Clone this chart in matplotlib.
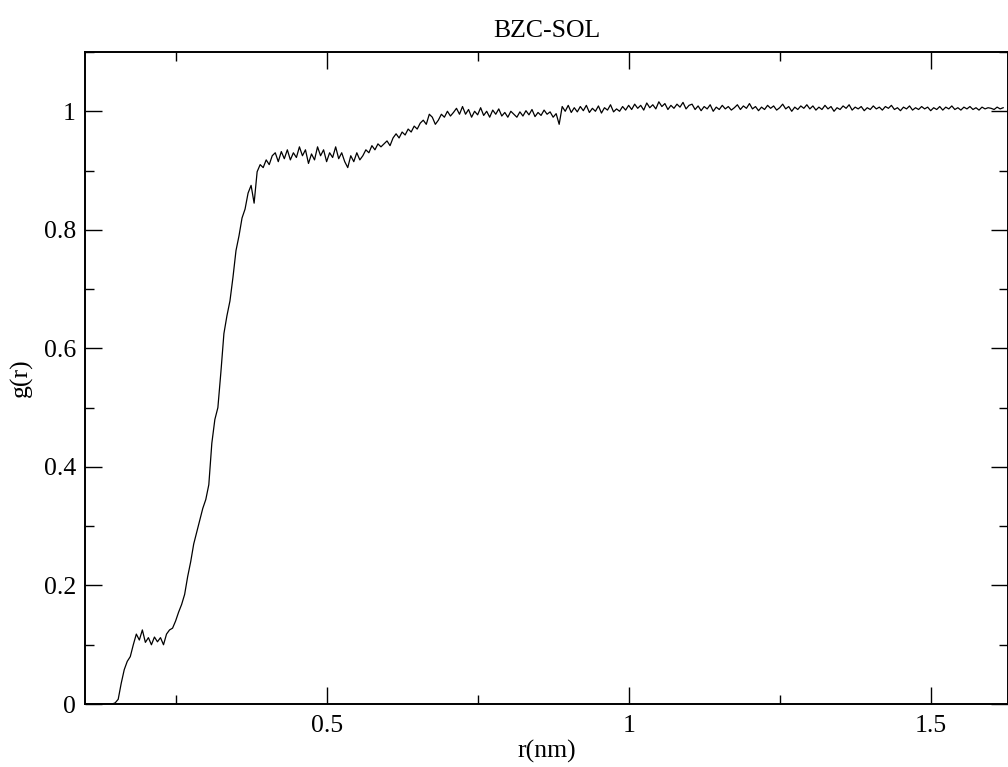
import numpy as np
import matplotlib
matplotlib.use("Agg")
import matplotlib.pyplot as plt
from matplotlib.ticker import MultipleLocator

# radial distribution function, r grid: 0.100 .. 1.620 step 0.005
r_start = 0.1
r_step = 0.005
g = [
    # 0.100 - 0.145
    0, 0, 0, 0, 0, 0, 0, 0, 0, 0,
    # 0.150 - 0.730
    0.002, 0.008, 0.035, 0.058, 0.072, 0.080, 0.100, 0.118, 0.108, 0.125,
    0.104, 0.112, 0.100, 0.113, 0.105, 0.112, 0.100, 0.118, 0.125, 0.128,
    0.140, 0.155, 0.168, 0.185, 0.215, 0.240, 0.270, 0.290, 0.310, 0.330,
    0.345, 0.370, 0.440, 0.480, 0.500, 0.560, 0.625, 0.655, 0.680, 0.720,
    0.765, 0.790, 0.820, 0.835, 0.862, 0.875, 0.845, 0.898, 0.910, 0.905,
    0.918, 0.910, 0.925, 0.930, 0.915, 0.932, 0.920, 0.935, 0.918, 0.930,
    0.922, 0.940, 0.925, 0.935, 0.912, 0.928, 0.918, 0.940, 0.925, 0.935,
    0.915, 0.930, 0.922, 0.940, 0.920, 0.930, 0.915, 0.905, 0.925, 0.915,
    0.930, 0.918, 0.925, 0.935, 0.930, 0.942, 0.935, 0.945, 0.940, 0.945,
    0.950, 0.942, 0.955, 0.962, 0.955, 0.965, 0.960, 0.970, 0.965, 0.975,
    0.970, 0.980, 0.985, 0.978, 0.995, 0.990, 0.978, 0.985, 0.995, 0.990,
    1.000, 0.992, 0.998, 1.005, 0.995, 1.008, 0.995,
    # 0.735 - 0.880
    1.003, 0.990, 1.000, 0.994, 1.006, 0.993, 1.000, 0.990, 1.002, 0.995,
    1.004, 0.992, 0.998, 0.990, 1.000, 0.995, 0.990, 0.999, 0.992, 1.001,
    0.994, 1.003, 0.991, 0.998, 0.993, 1.002, 0.995, 0.999, 0.990, 0.996,
    # 0.885 - 0.905
    0.978, 1.008, 1.000, 1.010, 0.998,
    # 0.910 - 1.000
    1.006, 0.999, 1.008, 1.001, 1.010, 0.998, 1.005, 1.000, 1.009, 0.997,
    1.006, 1.002, 1.011, 0.999, 1.004, 1.000, 1.008, 1.002, 1.010,
    # 1.005 - 1.100
    1.003, 1.012, 1.005, 1.010, 1.002, 1.014, 1.006, 1.011, 1.004, 1.016,
    1.008, 1.013, 1.003, 1.010, 1.005, 1.012, 1.007, 1.015, 1.004, 1.010,
    # 1.105 - 1.300
    1.012, 1.003, 1.009, 1.001, 1.008, 1.004, 1.011, 1.000, 1.007, 1.003,
    1.010, 1.004, 1.008, 1.002, 1.006, 1.011, 1.003, 1.009, 1.005, 1.013,
    1.004, 1.008, 1.001, 1.007, 1.003, 1.010, 1.005, 1.009, 1.002, 1.006,
    1.012, 1.004, 1.008, 1.000, 1.007, 1.003, 1.009, 1.005, 1.011, 1.004,
    # 1.305 - 1.600
    1.009, 1.002, 1.007, 1.003, 1.010, 1.004, 1.008, 1.000, 1.006, 1.003,
    1.009, 1.005, 1.011, 1.002, 1.007, 1.004, 1.008, 1.001, 1.006, 1.003,
    1.009, 1.004, 1.007, 1.002, 1.008, 1.005, 1.010, 1.003, 1.006, 1.001,
    1.007, 1.004, 1.009, 1.002, 1.006, 1.003, 1.008, 1.004, 1.007, 1.001,
    1.006, 1.003, 1.008, 1.002, 1.007, 1.004, 1.009, 1.003, 1.006, 1.002,
    1.007, 1.004, 1.008, 1.003, 1.006, 1.002, 1.007, 1.004, 1.006, 1.005,
    # 1.605 - 1.620
    1.003, 1.007, 1.004, 1.006,
]
r = r_start + r_step * np.arange(len(g))

plt.rcParams['font.family'] = ['Liberation Serif', 'DejaVu Serif']

fig = plt.figure(figsize=(10.08, 7.67), dpi=100)
ax = fig.add_axes([0.0843, 0.0821, 0.9157, 0.8501])

ax.plot(r, g, color='black', linewidth=0.9)

ax.set_xlim(0.1, 1.628)
ax.set_ylim(0, 1.1)

ax.xaxis.set_major_locator(MultipleLocator(0.5))
ax.xaxis.set_minor_locator(MultipleLocator(0.25))
ax.yaxis.set_major_locator(MultipleLocator(0.2))
ax.yaxis.set_minor_locator(MultipleLocator(0.1))
ax.set_yticks([0, 0.2, 0.4, 0.6, 0.8, 1.0])
ax.set_yticklabels(['0', '0.2', '0.4', '0.6', '0.8', '1'])
ax.set_xticks([0.5, 1.0, 1.5])
ax.set_xticklabels(['0.5', '1', '1.5'])

ax.tick_params(which='both', direction='in', top=True, right=True,
               width=1.0, labelsize=18.5, colors='black')
ax.tick_params(which='major', length=12.5)
ax.tick_params(which='minor', length=6.5)
ax.tick_params(axis='x', pad=8)
ax.tick_params(axis='y', pad=6.5)

for s in ax.spines.values():
    s.set_linewidth(1.4)

ax.set_title('BZC-SOL', fontsize=18.5, pad=11)
ax.set_xlabel('r(nm)', fontsize=18.5, labelpad=2)
ax.set_ylabel('g(r)', fontsize=18.5, labelpad=8)

fig.savefig('out.png', dpi=100)
